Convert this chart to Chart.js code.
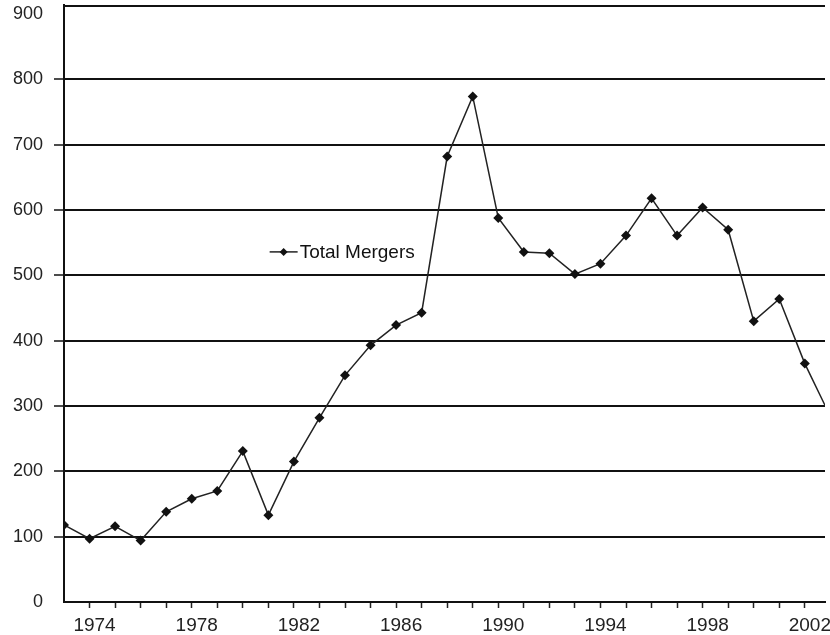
<!DOCTYPE html>
<html>
<head>
<meta charset="utf-8">
<script src="https://cdn.jsdelivr.net/npm/chart.js@4.4.1/dist/chart.umd.min.js"></script>
<style>
  html, body { margin: 0; padding: 0; background: #fff; }
  #wrap { width: 830px; height: 635px; }
</style>
</head>
<body>
<div id="wrap"><canvas id="chart"></canvas></div>
<script>
// Total mergers per year
const years = [1973, 1974, 1975, 1976, 1977, 1978, 1979, 1980, 1981, 1982,
  1983, 1984, 1985, 1986, 1987, 1988, 1989, 1990, 1991, 1992,
  1993, 1994, 1995, 1996, 1997, 1998, 1999, 2000, 2001, 2002, 2003];
const totalMergers = [118, 97, 116, 94, 138, 158, 170, 231, 133, 215,
  282, 347, 393, 424, 443, 682, 774, 588, 536, 534,
  502, 518, 561, 618, 561, 604, 570, 430, 464, 365, 284];
const labelYears = [1974, 1978, 1982, 1986, 1990, 1994, 1998, 2002];
const yTicks = [0, 100, 200, 300, 400, 500, 600, 700, 800, 900];

const FONT = "'Liberation Sans', Arial, sans-serif";

// legend drawn inside the plot, like the original
const innerLegend = {
  id: 'innerLegend',
  afterDatasetsDraw(chart) {
    const { ctx, scales } = chart;
    const x0 = scales.x.getPixelForValue(1981.05);
    const y0 = scales.y.getPixelForValue(536);
    ctx.save();
    ctx.strokeStyle = '#222';
    ctx.lineWidth = 1.5;
    ctx.beginPath();
    ctx.moveTo(x0, y0);
    ctx.lineTo(x0 + 28, y0);
    ctx.stroke();
    ctx.fillStyle = '#111';
    ctx.beginPath();
    ctx.moveTo(x0 + 14, y0 - 4);
    ctx.lineTo(x0 + 18, y0);
    ctx.lineTo(x0 + 14, y0 + 4);
    ctx.lineTo(x0 + 10, y0);
    ctx.closePath();
    ctx.fill();
    ctx.font = '19px ' + FONT;
    ctx.textBaseline = 'middle';
    ctx.fillStyle = '#111';
    ctx.fillText(chart.data.datasets[0].label, x0 + 30, y0 + 1);
    ctx.restore();
  }
};

// top frame line
const topFrame = {
  id: 'topFrame',
  afterDraw(chart) {
    const { ctx, chartArea } = chart;
    ctx.save();
    ctx.strokeStyle = '#111';
    ctx.lineWidth = 2;
    ctx.beginPath();
    ctx.moveTo(chartArea.left, chartArea.top + 1);
    ctx.lineTo(chartArea.right, chartArea.top + 1);
    ctx.stroke();
    ctx.restore();
  }
};

new Chart(document.getElementById('chart'), {
  type: 'line',
  data: {
    datasets: [{
      label: 'Total Mergers',
      data: years.map((y, i) => ({ x: y, y: totalMergers[i] })),
      borderColor: '#222',
      borderWidth: 1.5,
      pointStyle: 'rectRot',
      pointRadius: 5,
      pointBackgroundColor: '#111',
      pointBorderColor: '#111',
      pointBorderWidth: 0,
      tension: 0
    }]
  },
  options: {
    responsive: true,
    maintainAspectRatio: false,
    animation: false,
    layout: { padding: { top: 5, right: 0, left: 0, bottom: 0 } },
    plugins: {
      legend: { display: false },
      tooltip: { enabled: false }
    },
    scales: {
      x: {
        type: 'linear',
        min: 1973,
        max: 2002.79,
        afterBuildTicks(scale) {
          scale.ticks = years.filter(y => y > 1973 && y <= 2002).map(v => ({ value: v }));
        },
        afterFit(scale) {
          scale.height = 33;
          scale.paddingLeft = 0;
          scale.paddingRight = 0;
        },
        ticks: {
          autoSkip: false,
          maxRotation: 0,
          padding: 0,
          labelOffset: 5,
          color: '#222',
          font: { family: FONT, size: 19, lineHeight: 1.83 },
          callback: v => labelYears.includes(v) ? String(v) : ''
        },
        grid: {
          drawOnChartArea: false,
          drawTicks: true,
          tickLength: 6,
          tickColor: '#222',
          tickWidth: 1.5
        },
        border: { color: '#111', width: 2 }
      },
      y: {
        min: 0,
        max: 914,
        afterBuildTicks(scale) {
          scale.ticks = yTicks.map(v => ({ value: v }));
        },
        afterFit(scale) {
          scale.width = 64;
          scale.paddingTop = 0;
          scale.paddingBottom = 0;
        },
        ticks: {
          padding: 11,
          color: '#222',
          font: { family: FONT, size: 18 }
        },
        grid: {
          color: ctx => (ctx.tick && ctx.tick.value > 0 && ctx.tick.value < 900) ? '#111' : 'rgba(0,0,0,0)',
          lineWidth: 2,
          tickLength: 10,
          tickWidth: 1.5
        },
        border: { color: '#111', width: 2 }
      }
    }
  },
  plugins: [innerLegend, topFrame]
});
</script>
</body>
</html>
